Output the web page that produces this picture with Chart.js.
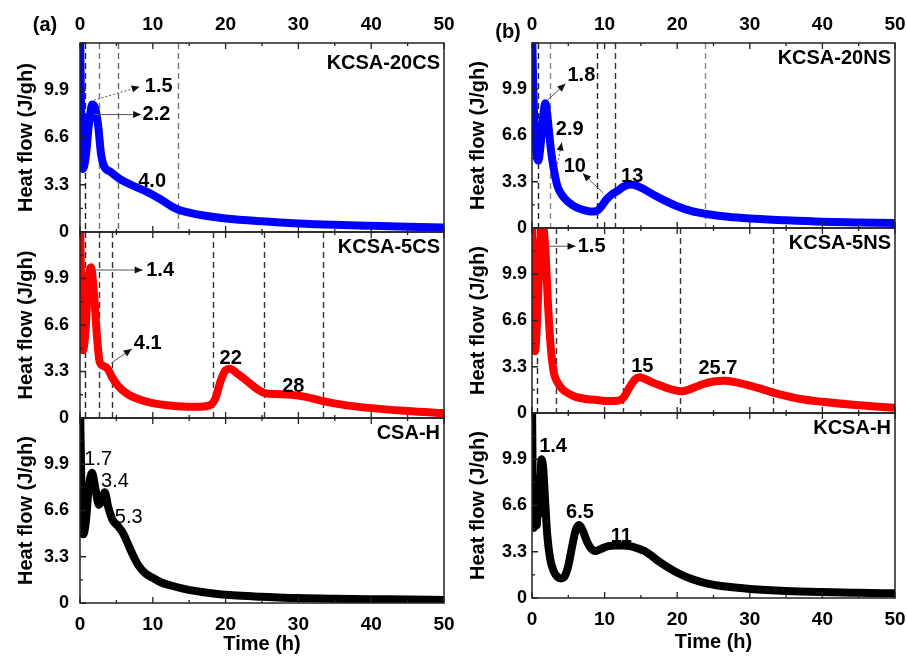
<!DOCTYPE html>
<html>
<head>
<meta charset="utf-8">
<script src="https://cdn.jsdelivr.net/npm/chart.js@4.4.1/dist/chart.umd.min.js"></script>
<style>
  html, body { margin: 0; padding: 0; background: #fff; }
  #wrap { position: relative; width: 907px; height: 656px; overflow: hidden; }
  #wrap canvas { position: absolute; }
</style>
</head>
<body>
<div id="wrap"></div>
<script>
// axis ticks
const xTicks = [0, 10, 20, 30, 40, 50];
const yTicks = [0, 3.3, 6.6, 9.9];

// KCSA-20CS
const hours20CS = [0, 0.2, 0.4, 0.8, 1.2, 1.7, 2.1, 2.5, 2.9, 3.3, 4.2, 5.5, 7.0, 9.2, 11.0, 13.3, 15.0, 17.0, 20.0, 25.0, 30.0, 35.0, 40.0, 45.0, 50.0];
const flow20CS = [14.5, 7.0, 4.4, 5.3, 7.4, 8.9, 8.6, 7.4, 5.4, 4.6, 4.2, 3.7, 3.3, 2.8, 2.3, 1.6, 1.35, 1.15, 0.95, 0.75, 0.6, 0.5, 0.43, 0.37, 0.32];
const marks20CS = [0.7, 2.6, 5.2, 13.5];

// KCSA-5CS
const hours5CS = [0, 0.2, 0.4, 0.8, 1.1, 1.5, 1.9, 2.3, 2.7, 3.2, 3.8, 4.4, 5.2, 6.4, 8.0, 10.0, 12.0, 14.0, 16.0, 17.8, 18.6, 19.3, 20.0, 20.6, 21.5, 23.0, 24.5, 25.5, 27.0, 29.0, 31.0, 33.4, 36.0, 40.0, 45.0, 50.0];
const flow5CS = [14.5, 8.0, 4.8, 6.5, 9.5, 10.7, 9.0, 6.0, 4.0, 3.7, 3.5, 2.9, 2.3, 1.75, 1.35, 1.05, 0.9, 0.82, 0.8, 0.9, 1.4, 2.6, 3.4, 3.5, 3.2, 2.6, 2.0, 1.75, 1.7, 1.65, 1.5, 1.2, 0.95, 0.7, 0.5, 0.35];
const marks5CS = [0.7, 2.6, 4.4, 18.3, 25.3, 33.4];

// CSA-H
const hoursCSAH = [0, 0.2, 0.45, 0.8, 1.2, 1.65, 2.1, 2.6, 3.0, 3.4, 3.9, 4.5, 5.2, 5.9, 6.6, 7.2, 8.0, 9.0, 10.0, 11.0, 12.5, 14.0, 16.0, 18.0, 21.0, 25.0, 30.0, 35.0, 40.0, 45.0, 50.0];
const flowCSAH = [14.5, 8.0, 4.9, 5.8, 8.2, 9.3, 8.2, 7.0, 7.3, 7.9, 6.8, 5.9, 5.5, 5.0, 4.2, 3.5, 2.7, 2.1, 1.8, 1.5, 1.25, 1.05, 0.85, 0.7, 0.55, 0.45, 0.35, 0.3, 0.27, 0.25, 0.22];

// KCSA-20NS
const hours20NS = [0, 0.2, 0.5, 0.85, 1.2, 1.5, 1.85, 2.2, 2.6, 3.0, 3.5, 4.2, 5.0, 6.0, 7.0, 8.0, 8.8, 9.5, 10.2, 11.0, 11.8, 12.6, 13.5, 14.5, 15.5, 17.0, 18.5, 20.0, 22.0, 24.0, 27.0, 30.0, 35.0, 40.0, 45.0, 50.0];
const flow20NS = [14.5, 9.5, 6.0, 4.8, 6.0, 7.8, 8.9, 7.6, 5.6, 4.2, 3.0, 2.3, 1.85, 1.5, 1.3, 1.18, 1.2, 1.5, 2.0, 2.4, 2.65, 2.95, 3.1, 3.0, 2.75, 2.3, 1.9, 1.55, 1.2, 1.0, 0.8, 0.68, 0.55, 0.45, 0.4, 0.35];
const marks20NS = [0.8, 2.5, 9.0, 11.5, 23.8];

// KCSA-5NS
const hours5NS = [0, 0.15, 0.4, 0.7, 1.0, 1.4, 1.8, 2.2, 2.6, 3.0, 3.5, 4.2, 5.0, 6.0, 7.5, 9.0, 10.5, 11.8, 12.6, 13.4, 14.2, 14.8, 15.5, 16.5, 18.0, 19.5, 20.6, 21.5, 22.5, 23.5, 25.0, 26.5, 28.0, 30.0, 32.0, 34.0, 37.0, 40.0, 45.0, 50.0];
const flow5NS = [14.5, 9.0, 4.4, 6.5, 10.5, 13.6, 12.0, 7.8, 4.6, 2.9, 2.2, 1.7, 1.4, 1.15, 1.0, 0.92, 0.85, 0.88, 1.1, 1.8, 2.4, 2.55, 2.45, 2.2, 1.9, 1.65, 1.55, 1.65, 1.85, 2.05, 2.25, 2.3, 2.2, 1.95, 1.65, 1.35, 1.0, 0.8, 0.55, 0.38];
const marks5NS = [0.7, 3.3, 12.6, 20.4, 33.2];

// KCSA-H
const hoursKCSAH = [0, 0.1, 0.25, 0.45, 0.65, 0.85, 1.05, 1.3, 1.55, 1.8, 2.1, 2.5, 3.0, 3.5, 4.0, 4.5, 5.0, 5.5, 6.0, 6.5, 7.0, 7.6, 8.2, 8.8, 9.5, 10.5, 11.5, 12.5, 13.5, 14.5, 15.5, 16.5, 17.5, 18.5, 20.0, 22.0, 24.0, 27.0, 30.0, 35.0, 40.0, 45.0, 50.0];
const flowKCSAH = [14.5, 8.0, 5.0, 8.5, 5.2, 7.0, 6.0, 9.9, 9.2, 7.0, 4.5, 2.8, 1.9, 1.5, 1.4, 1.55, 2.3, 3.6, 4.8, 5.2, 4.8, 4.0, 3.5, 3.35, 3.5, 3.7, 3.75, 3.75, 3.7, 3.55, 3.35, 3.0, 2.6, 2.25, 1.8, 1.35, 1.05, 0.8, 0.65, 0.5, 0.42, 0.37, 0.33];

const FONT = "'Liberation Sans', Arial, sans-serif";
const BLUE = "#0000ff";
const RED = "#ff0000";
const BLACK = "#000000";

const cols = [
  { left: 80, right: 444, rows: [43, 232, 418, 603], labelPad: 11, tag: "(a)", tagX: 45, tagY: 25 },
  { left: 532, right: 895, rows: [43, 228, 413, 598], labelPad: 5, tag: "(b)", tagX: 56, tagY: 32 }
];

const panels = [
  { col: 0, row: 0, name: "KCSA-20CS", hours: hours20CS, flow: flow20CS, color: BLUE,
    marks: marks20CS, markColors: ["#222", "#777", "#666", "#777"],
    notes: [
      { text: "1.5", t: 8.9, v: 10.15, align: "left" },
      { text: "2.2", t: 8.6, v: 8.2, align: "left" },
      { text: "4.0", t: 8.0, v: 3.55, align: "left" }
    ],
    arrows: [
      { from: [1.9, 9.2], to: [8.2, 10.15], dotted: true },
      { from: [1.9, 8.2], to: [8.4, 8.2] }
    ] },
  { col: 0, row: 1, name: "KCSA-5CS", hours: hours5CS, flow: flow5CS, color: RED,
    marks: marks5CS, markColors: ["#222", "#333", "#333", "#333", "#333", "#333"],
    notes: [
      { text: "1.4", t: 9.1, v: 10.5, align: "left" },
      { text: "4.1", t: 7.4, v: 5.3, align: "left" },
      { text: "22", t: 20.7, v: 4.2 },
      { text: "28", t: 29.3, v: 2.25 }
    ],
    arrows: [
      { from: [1.9, 10.5], to: [8.6, 10.5] },
      { from: [4.3, 3.9], to: [7.1, 4.9] }
    ] },
  { col: 0, row: 2, name: "CSA-H", hours: hoursCSAH, flow: flowCSAH, color: BLACK,
    marks: [], markColors: [],
    notes: [
      { text: "1.7", t: 2.5, v: 10.25, weight: "normal" },
      { text: "3.4", t: 4.8, v: 8.7, weight: "normal" },
      { text: "5.3", t: 6.7, v: 6.1, weight: "normal" }
    ],
    arrows: [] },
  { col: 1, row: 0, name: "KCSA-20NS", hours: hours20NS, flow: flow20NS, color: BLUE,
    marks: marks20NS, markColors: ["#222", "#888", "#222", "#333", "#888"],
    notes: [
      { text: "1.8", t: 6.8, v: 10.9 },
      { text: "2.9", t: 5.2, v: 7.0 },
      { text: "10", t: 5.9, v: 4.4 },
      { text: "13", t: 13.8, v: 3.7 }
    ],
    arrows: [
      { from: [2.1, 9.1], to: [4.6, 10.3] },
      { from: [3.4, 4.3], to: [4.1, 6.1], dotted: true },
      { from: [9.8, 2.5], to: [7.0, 3.9] }
    ] },
  { col: 1, row: 1, name: "KCSA-5NS", hours: hours5NS, flow: flow5NS, color: RED,
    marks: marks5NS, markColors: ["#222", "#333", "#333", "#333", "#333"],
    notes: [
      { text: "1.5", t: 6.3, v: 11.9, align: "left" },
      { text: "15", t: 15.2, v: 3.3 },
      { text: "25.7", t: 25.6, v: 3.16 }
    ],
    arrows: [
      { from: [2.1, 11.9], to: [6.0, 11.9] }
    ] },
  { col: 1, row: 2, name: "KCSA-H", hours: hoursKCSAH, flow: flowKCSAH, color: BLACK,
    marks: [], markColors: [],
    notes: [
      { text: "1.4", t: 2.9, v: 10.8 },
      { text: "6.5", t: 6.6, v: 6.1 },
      { text: "11", t: 12.3, v: 4.4 }
    ],
    arrows: [] }
];

const drawArrow = (ctx, x1, y1, x2, y2, dotted) => {
  ctx.save();
  ctx.strokeStyle = "#555";
  ctx.lineWidth = 1;
  ctx.setLineDash(dotted ? [2, 2] : []);
  ctx.beginPath();
  ctx.moveTo(x1, y1);
  ctx.lineTo(x2, y2);
  ctx.stroke();
  const ang = Math.atan2(y2 - y1, x2 - x1);
  ctx.setLineDash([]);
  ctx.fillStyle = "#111";
  ctx.beginPath();
  ctx.moveTo(x2, y2);
  ctx.lineTo(x2 - 8 * Math.cos(ang) + 3.5 * Math.sin(ang), y2 - 8 * Math.sin(ang) - 3.5 * Math.cos(ang));
  ctx.lineTo(x2 - 8 * Math.cos(ang) - 3.5 * Math.sin(ang), y2 - 8 * Math.sin(ang) + 3.5 * Math.cos(ang));
  ctx.closePath();
  ctx.fill();
  ctx.restore();
};

const makeDecor = (panel, col) => ({
  id: "panelDecor",
  beforeDatasetsDraw(chart) {
    const { ctx, chartArea: a, scales: { x } } = chart;
    ctx.save();
    ctx.lineWidth = 1.4;
    ctx.setLineDash([6, 4]);
    panel.marks.forEach((t, i) => {
      const px = Math.round(x.getPixelForValue(t)) + 0.5;
      ctx.strokeStyle = panel.markColors[i] || "#333";
      ctx.beginPath();
      ctx.moveTo(px, a.top);
      ctx.lineTo(px, a.bottom);
      ctx.stroke();
    });
    ctx.restore();
  },
  afterDatasetsDraw(chart) {
    const { ctx, chartArea: a, scales: { x, y } } = chart;
    ctx.save();
    // frame
    ctx.strokeStyle = "#222";
    ctx.lineWidth = 1.5;
    ctx.strokeRect(a.left, a.top, a.right - a.left, a.bottom - a.top);
    // inward ticks
    ctx.lineWidth = 1.3;
    ctx.beginPath();
    for (let t = 0; t <= 50; t += 5) {
      const px = x.getPixelForValue(t);
      const len = t % 10 === 0 ? 6 : 3;
      ctx.moveTo(px, a.top);
      ctx.lineTo(px, a.top + len);
      ctx.moveTo(px, a.bottom);
      ctx.lineTo(px, a.bottom - len);
    }
    for (let k = 0; k <= 8; k++) {
      const v = k * 1.65;
      if (v > 13.2) break;
      const py = y.getPixelForValue(v);
      const len = k % 2 === 0 ? 6 : 3;
      ctx.moveTo(a.left, py);
      ctx.lineTo(a.left + len, py);
    }
    ctx.stroke();

    // arrows
    panel.arrows.forEach((ar) => {
      drawArrow(ctx,
        x.getPixelForValue(ar.from[0]), y.getPixelForValue(ar.from[1]),
        x.getPixelForValue(ar.to[0]), y.getPixelForValue(ar.to[1]), ar.dotted);
    });

    // peak notes
    ctx.fillStyle = "#000";
    ctx.textBaseline = "middle";
    panel.notes.forEach((n) => {
      ctx.font = `${n.weight || "bold"} 20px ${FONT}`;
      ctx.textAlign = n.align || "center";
      ctx.fillText(n.text, x.getPixelForValue(n.t), y.getPixelForValue(n.v));
    });

    // sample name
    ctx.font = `bold 20px ${FONT}`;
    ctx.textAlign = "right";
    const nameY = panel.row === 0 ? a.top + (panel.col === 0 ? 20 : 15) : a.top + 15;
    ctx.fillText(panel.name, a.right - 4, nameY);

    // column tag
    if (panel.row === 0) {
      ctx.font = `bold 20px ${FONT}`;
      ctx.textAlign = "center";
      ctx.fillText(col.tag, col.tagX, col.tagY);
    }
    ctx.restore();
  }
});

const wrap = document.getElementById("wrap");

panels.forEach((panel) => {
  const col = cols[panel.col];
  const plotTop = col.rows[panel.row];
  const plotBottom = col.rows[panel.row + 1];
  const padTop = panel.row === 0 ? 0 : 14;
  const topAxis = panel.row === 0 ? 43 : 0;
  const bottomAxis = panel.row === 2 ? 656 - plotBottom : 0;
  const padBottom = panel.row === 2 ? 0 : 14;
  const canvasLeft = col.left - 80;
  const canvasTop = plotTop - topAxis - padTop;
  const width = col.right - col.left + 80 + 14;
  const height = padTop + topAxis + (plotBottom - plotTop) + bottomAxis + padBottom;

  const canvas = document.createElement("canvas");
  canvas.width = width;
  canvas.height = height;
  canvas.style.left = canvasLeft + "px";
  canvas.style.top = canvasTop + "px";
  canvas.style.width = width + "px";
  canvas.style.height = height + "px";
  wrap.appendChild(canvas);

  const points = panel.hours.map((t, i) => ({ x: t, y: panel.flow[i] }));

  new Chart(canvas, {
    type: "line",
    data: {
      datasets: [{
        data: points,
        borderColor: panel.color,
        borderWidth: 8,
        pointRadius: 0,
        cubicInterpolationMode: "monotone",
        borderJoinStyle: "round",
        borderCapStyle: "round",
        clip: 0
      }]
    },
    options: {
      responsive: false,
      animation: false,
      events: [],
      devicePixelRatio: 1,
      layout: { padding: { top: padTop, bottom: padBottom, left: 0, right: 14 } },
      plugins: { legend: { display: false }, tooltip: { enabled: false } },
      scales: {
        x: {
          type: "linear",
          min: 0,
          max: 50,
          position: panel.row === 0 ? "top" : "bottom",
          display: panel.row !== 1,
          grid: { display: false, drawTicks: false },
          border: { display: false },
          ticks: {
            color: "#000",
            padding: panel.row === 0 ? 7 : 10,
            maxRotation: 0,
            autoSkip: false,
            font: { family: FONT, size: 19, weight: "bold" }
          },
          title: {
            display: panel.row === 2,
            text: "Time (h)",
            color: "#000",
            padding: { top: 0, bottom: panel.col === 0 ? 0 : 2 },
            font: { family: FONT, size: 20, weight: "bold" }
          },
          afterBuildTicks: (s) => { s.ticks = xTicks.map((v) => ({ value: v })); },
          afterFit: (s) => {
            if (panel.row === 0) s.height = topAxis;
            if (panel.row === 2) s.height = bottomAxis;
            s.paddingLeft = 0;
            s.paddingRight = 0;
          }
        },
        y: {
          min: 0,
          max: 13.2,
          grid: { display: false, drawTicks: false },
          border: { display: false },
          ticks: {
            color: "#000",
            padding: col.labelPad,
            font: { family: FONT, size: 18, weight: "bold" },
            callback: (v) => (v === 0 ? "0" : Number(v).toFixed(1))
          },
          title: {
            display: true,
            text: "Heat flow (J/gh)",
            color: "#000",
            padding: { top: 14, bottom: 0 },
            font: { family: FONT, size: 20, weight: "bold" }
          },
          afterBuildTicks: (s) => { s.ticks = yTicks.map((v) => ({ value: v })); },
          afterFit: (s) => {
            s.width = 80;
            s.paddingTop = 0;
            s.paddingBottom = 0;
          }
        }
      }
    },
    plugins: [makeDecor(panel, col)]
  });
});
</script>
</body>
</html>
